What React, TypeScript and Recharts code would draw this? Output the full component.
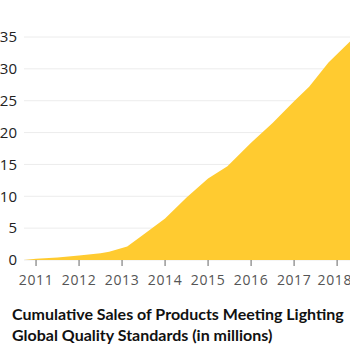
import { Area, AreaChart, CartesianGrid, XAxis, YAxis } from 'recharts';

// years (fractional) and cumulative sales in millions
const years = [2010.72, 2011, 2011.5, 2012, 2012.5, 2012.7, 2013.12, 2013.5, 2014, 2014.5, 2015, 2015.45, 2016, 2016.5, 2017, 2017.35, 2017.8, 2018.3];
const sales = [0, 0.2, 0.4, 0.7, 1.05, 1.3, 2.1, 4.0, 6.5, 9.8, 12.8, 14.7, 18.4, 21.5, 24.9, 27.2, 31, 34.3];
const xTicks = [2011, 2012, 2013, 2014, 2015, 2016, 2017, 2018];
const yTicks = [0, 5, 10, 15, 20, 25, 30, 35];

const data = years.map((y, i) => ({ year: y, sales: sales[i] }));

export default function App() {
  return (
    <div style={{ position: 'absolute', left: 0, top: 0, width: 350, height: 350, background: '#fff' }}>
      <AreaChart width={350} height={300} data={data} margin={{ top: 37, right: 0, bottom: 10, left: 0 }}>
        <CartesianGrid vertical={false} stroke="#ececec" />
        <XAxis
          dataKey="year"
          type="number"
          domain={[2010.72, 2018.3]}
          ticks={xTicks}
          axisLine={false}
          tickLine={{ stroke: '#666' }}
          tickSize={6}
          tickMargin={9}
          height={30}
          tick={{ fontSize: 14, fill: '#555', fontFamily: 'Open Sans', letterSpacing: 0.6 }}
        />
        <YAxis
          domain={[0, 35]}
          ticks={yTicks}
          axisLine={false}
          tickLine={false}
          tickSize={0}
          tickMargin={7}
          width={24}
          tick={{ fontSize: 15, fill: '#222', fontFamily: 'Open Sans' }}
        />
        <Area
          type="linear"
          dataKey="sales"
          stroke="none"
          fill="#ffcb30"
          fillOpacity={1}
          isAnimationActive={false}
        />
      </AreaChart>
      <div
        style={{
          position: 'absolute',
          left: 12,
          top: 303,
          fontFamily: 'Lato',
          fontWeight: 700,
          fontSize: 16,
          lineHeight: '21px',
          color: '#111',
        }}
      >
        Cumulative Sales of Products Meeting Lighting
        <br />
        Global Quality Standards (in millions)
      </div>
    </div>
  );
}
